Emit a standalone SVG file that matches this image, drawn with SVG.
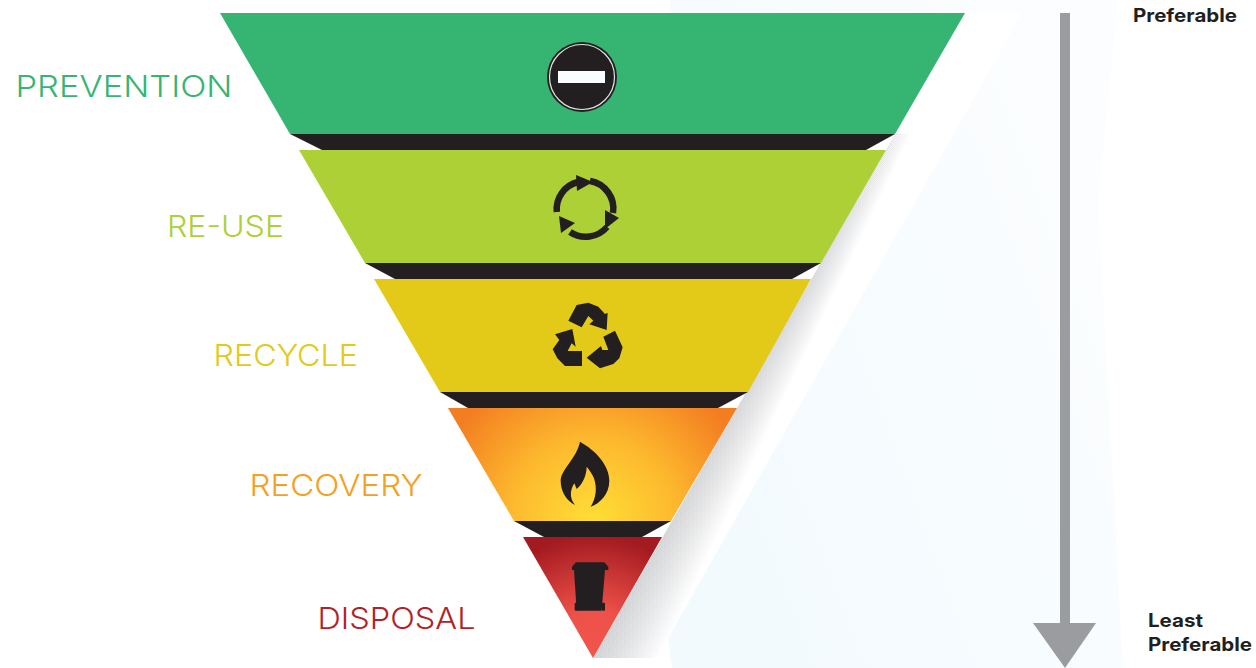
<svg xmlns="http://www.w3.org/2000/svg" width="1256" height="668" viewBox="0 0 1256 668">
<style>
.lbl{font-family:"Inter","Liberation Sans",sans-serif;font-weight:300;font-size:30px}
.side{font-family:"Inter","Liberation Sans",sans-serif;font-weight:700;font-size:18.5px;fill:#231f20}
.dark{fill:#231f20}
.ic{fill:#231f20}
.ln{fill:none;stroke:#231f20;stroke-width:6.5}
.fan{fill:url(#fan)}
</style>
<defs>
<linearGradient id="pale" gradientUnits="userSpaceOnUse" x1="740" y1="520" x2="1120" y2="380">
<stop offset="0" stop-color="#f3fafe"/><stop offset="0.55" stop-color="#f7fcfe"/><stop offset="1" stop-color="#fbfdfe"/>
</linearGradient>
<linearGradient id="fan" gradientUnits="userSpaceOnUse" x1="0" y1="658" x2="0" y2="130">
<stop offset="0" stop-color="#8f9196" stop-opacity="0.03"/><stop offset="0.7" stop-color="#8f9196" stop-opacity="0.025"/><stop offset="1" stop-color="#8f9196" stop-opacity="0.012"/>
</linearGradient>
<radialGradient id="fire" gradientUnits="userSpaceOnUse" cx="593" cy="522" r="165">
<stop offset="0" stop-color="#ffdf35"/><stop offset="0.5" stop-color="#fdb92e"/><stop offset="1" stop-color="#f37d21"/>
</radialGradient>
<radialGradient id="red" gradientUnits="userSpaceOnUse" cx="593" cy="650" r="115">
<stop offset="0" stop-color="#f1544b"/><stop offset="0.35" stop-color="#ee5149"/><stop offset="1" stop-color="#a31a20"/>
</radialGradient>
</defs>
<rect width="1256" height="668" fill="#fff"/>
<polygon points="670,0 1118,0 1098,200 1123,668 672,668 668,638 1022,13 670,13" fill="url(#pale)"/>
<g id="shadow">
<polygon class="fan" points="593,658 895,134 896,134 597,658"/>
<polygon class="fan" points="593,658 895,134 897,134 601,658"/>
<polygon class="fan" points="593,658 895,134 898,134 605,658"/>
<polygon class="fan" points="593,658 895,134 899,134 609,658"/>
<polygon class="fan" points="593,658 895,134 900,134 613,658"/>
<polygon class="fan" points="593,658 895,134 901,134 617,658"/>
<polygon class="fan" points="593,658 895,134 902,134 621,658"/>
<polygon class="fan" points="593,658 895,134 903,134 625,658"/>
<polygon class="fan" points="593,658 895,134 904,134 629,658"/>
<polygon class="fan" points="593,658 895,134 905,134 633,658"/>
<polygon class="fan" points="593,658 895,134 906,134 637,658"/>
<polygon class="fan" points="593,658 895,134 907,134 641,658"/>
<polygon class="fan" points="593,658 895,134 908,134 645,658"/>
<polygon class="fan" points="593,658 895,134 909,134 649,658"/>
<polygon class="fan" points="593,658 895,134 910,134 653,658"/>
<polygon class="fan" points="593,658 895,134 911,134 657,658"/>
</g>
<g id="prevention">
<polygon points="290,134 895,134 866,150 322,150" class="dark"/>
<polygon points="220,13 965,13 895,134 290,134" fill="#36b572"/>
<circle cx="582" cy="77" r="35" class="dark"/>
<circle cx="582" cy="77" r="32.500" fill="none" stroke="#e4e4e4" stroke-width="1.2"/>
<rect x="558" y="71" width="47" height="12" fill="#fafdff"/>
<text class="lbl" x="15.500" y="96.500" fill="#36b572" textLength="217" lengthAdjust="spacingAndGlyphs">PREVENTION</text>
</g>
<g id="re-use">
<polygon points="365,263 821,263 792,279 395,279" class="dark"/>
<polygon points="299,150 886,150 821,263 365,263" fill="#acd036"/>
<path class="ln" d="M556.800,212 A28,28 0 0 1 578,182"/>
<path class="ln" d="M590,181 A28,28 0 0 1 613,213"/>
<path class="ln" d="M607,227 A28,28 0 0 1 570,232"/>
<polygon class="ic" points="593,182 576,175 577,191"/>
<polygon class="ic" points="619,218 605,210 605,229"/>
<polygon class="ic" points="559,216 561,233 575,223"/>
<text class="lbl" x="167" y="236.500" fill="#acd036" textLength="117" lengthAdjust="spacingAndGlyphs">RE-USE</text>
</g>
<g id="recycle">
<polygon points="440,392 748,392 718,408 468,408" class="dark"/>
<polygon points="374,279 811,279 748,392 440,392" fill="#e3c918"/>
<g transform="translate(520 290) scale(0.3333)" class="ic">
<polygon points="145,92 170,45 205,38 235,50 255,72 263,68 260,120 208,103 220,92 205,78 185,112"/>
<polygon points="105,133 157,117 167,170 155,160 143,183 186,183 186,228 135,228 112,205 98,178 118,150"/>
<polygon points="250,140 285,122 308,172 298,205 280,222 240,235 200,203 243,168 247,180 265,180"/>
</g>
<text class="lbl" x="213.500" y="366" fill="#e3c918" textLength="144.500" lengthAdjust="spacingAndGlyphs">RECYCLE</text>
</g>
<g id="recovery">
<polygon points="514,521 671,521 642,537 544,537" class="dark"/>
<polygon points="448,408 737,408 671,521 514,521" fill="url(#fire)"/>
<path transform="translate(520 290) scale(0.3333)" class="ic" d="M180,455 C225,480 268,525 268,572 C268,612 240,640 212,650 C228,625 232,595 222,565 C216,550 208,540 200,530 C200,555 188,582 170,597 L163,580 C150,600 148,625 165,645 C140,632 122,605 122,572 C122,540 170,505 180,455 Z"/>
<text class="lbl" x="249.500" y="496" fill="#f6a01f" textLength="173" lengthAdjust="spacingAndGlyphs">RECOVERY</text>
</g>
<g id="disposal">
<polygon points="523,537 662,537 593,658" fill="url(#red)"/>
<g transform="translate(510 520) scale(0.3333)" class="ic">
<path d="M186,140 L198,127 H283 L295,140 V150 H186 Z"/>
<polygon points="192,150 285,150 275,272 200,272"/>
<rect x="194" y="248" width="9" height="24" rx="3"/>
<rect x="276" y="248" width="9" height="24" rx="3"/>
</g>
<text class="lbl" x="317.500" y="628.500" fill="#b31f2a" textLength="158" lengthAdjust="spacingAndGlyphs">DISPOSAL</text>
</g>
<g id="connectors">
<rect x="1060" y="13" width="10" height="612" fill="#9b9ca0"/>
<polygon points="1033,623 1096,623 1065,668" fill="#9b9ca0"/>
</g>
<g id="preferable"><text class="side" x="1133" y="22" textLength="104" lengthAdjust="spacingAndGlyphs">Preferable</text></g>
<g id="least-preferable">
<text class="side" x="1148" y="627" textLength="55" lengthAdjust="spacingAndGlyphs">Least</text>
<text class="side" x="1148" y="651" textLength="104" lengthAdjust="spacingAndGlyphs">Preferable</text>
</g>
</svg>
